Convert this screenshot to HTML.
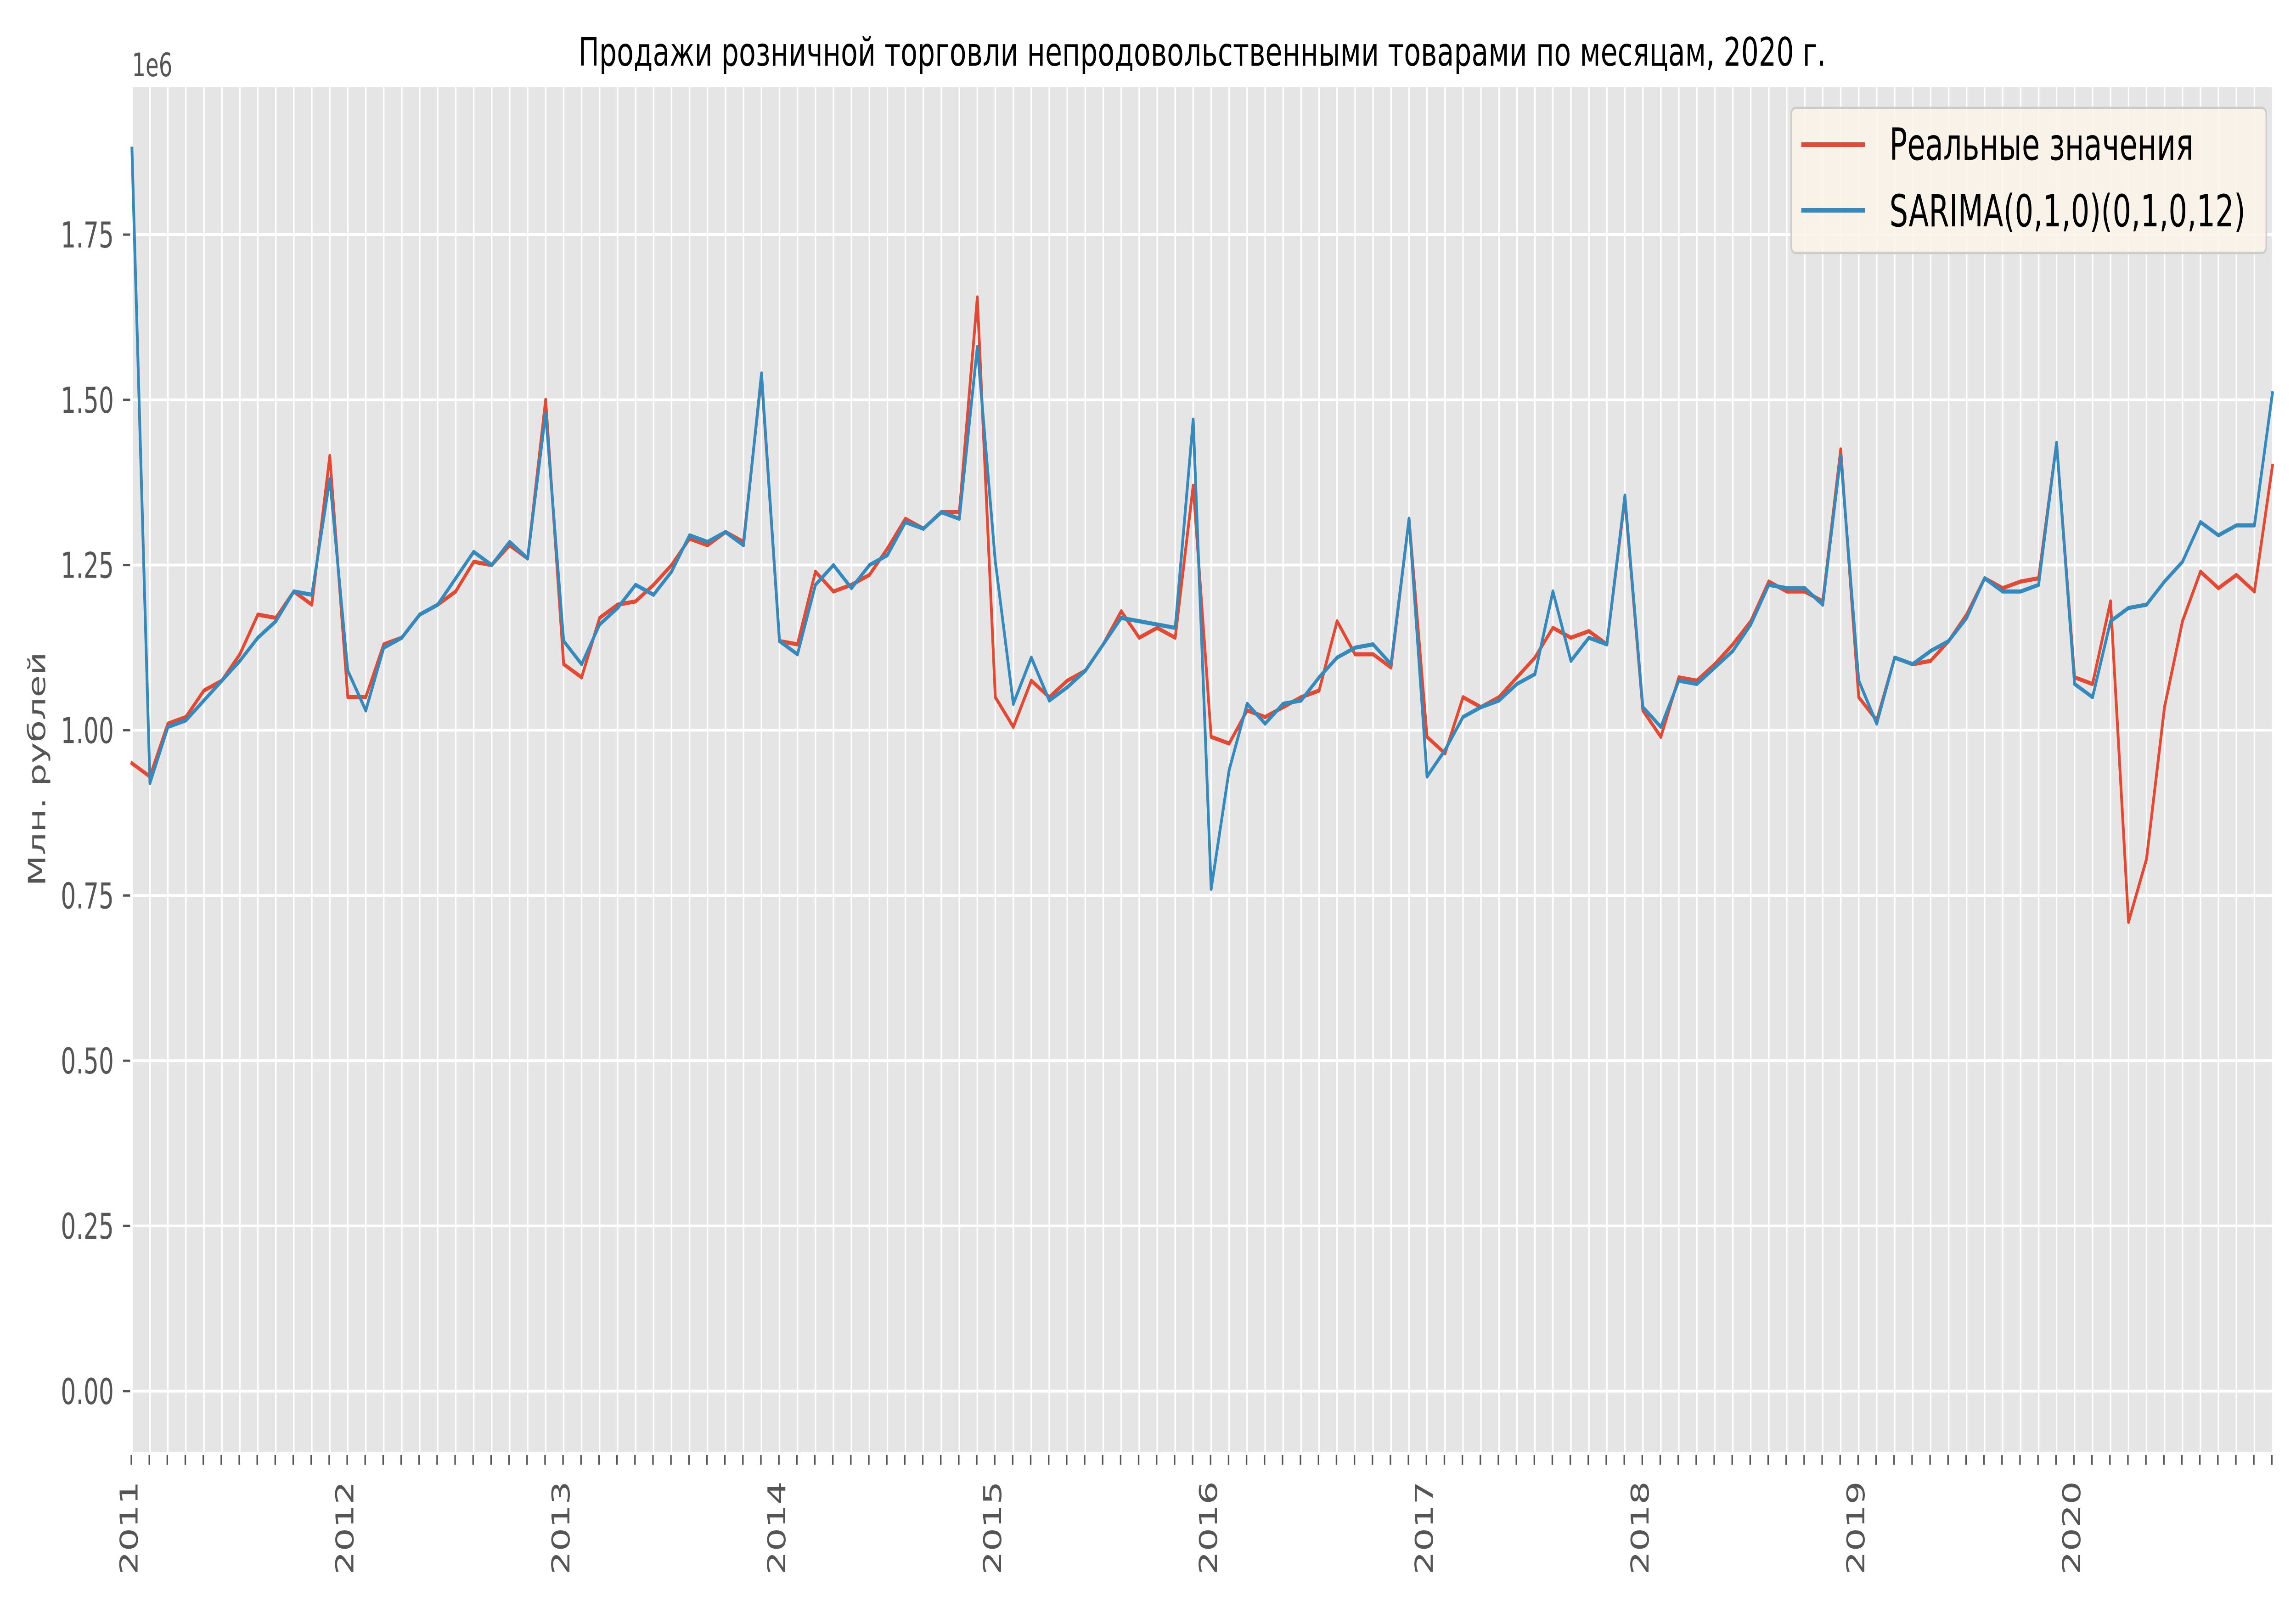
<!DOCTYPE html>
<html><head><meta charset="utf-8">
<style>
html,body{margin:0;padding:0;background:#fff;overflow:hidden;width:100%;height:100%;}
svg{display:block;width:100vw;height:100vh;font-family:"DejaVu Sans","Liberation Sans",sans-serif;}
</style></head>
<body>
<svg id="chart" xmlns="http://www.w3.org/2000/svg" viewBox="0 0 7500 3500" preserveAspectRatio="none">
<rect x="0" y="0" width="7500" height="3500" fill="#ffffff"/>
<g id="plot"></g>
</svg>
<script>
const years = [2011,2012,2013,2014,2015,2016,2017,2018,2019,2020];
const yTicks = [0,0.25,0.5,0.75,1.0,1.25,1.5,1.75];
const yTickLabels = ["0.00","0.25","0.50","0.75","1.00","1.25","1.50","1.75"];
const actual = [
0.95,0.93,1.01,1.02,1.06,1.075,1.115,1.175,1.17,1.21,1.19,1.415,
1.05,1.05,1.13,1.14,1.175,1.19,1.21,1.255,1.25,1.28,1.26,1.50,
1.10,1.08,1.17,1.19,1.195,1.22,1.25,1.29,1.28,1.30,1.285,1.535,
1.135,1.13,1.24,1.21,1.22,1.235,1.275,1.32,1.305,1.33,1.33,1.655,
1.05,1.005,1.075,1.05,1.075,1.09,1.13,1.18,1.14,1.155,1.14,1.37,
0.99,0.98,1.03,1.02,1.035,1.05,1.06,1.165,1.115,1.115,1.095,1.32,
0.99,0.965,1.05,1.035,1.05,1.08,1.11,1.155,1.14,1.15,1.13,1.35,
1.03,0.99,1.08,1.075,1.10,1.13,1.165,1.225,1.21,1.21,1.195,1.425,
1.05,1.015,1.11,1.10,1.105,1.135,1.175,1.23,1.215,1.225,1.23,1.435,
1.08,1.07,1.195,0.71,0.805,1.035,1.165,1.24,1.215,1.235,1.21,1.40];
const sarima = [
1.88,0.92,1.005,1.015,1.045,1.075,1.105,1.14,1.165,1.21,1.205,1.38,
1.09,1.03,1.125,1.14,1.175,1.19,1.23,1.27,1.25,1.285,1.26,1.48,
1.135,1.10,1.16,1.185,1.22,1.205,1.24,1.295,1.285,1.30,1.28,1.54,
1.135,1.115,1.22,1.25,1.215,1.25,1.265,1.315,1.305,1.33,1.32,1.58,
1.255,1.04,1.11,1.045,1.065,1.09,1.13,1.17,1.165,1.16,1.155,1.47,
0.76,0.94,1.04,1.01,1.04,1.045,1.08,1.11,1.125,1.13,1.10,1.32,
0.93,0.97,1.02,1.035,1.045,1.07,1.085,1.21,1.105,1.14,1.13,1.355,
1.035,1.005,1.075,1.07,1.095,1.12,1.16,1.22,1.215,1.215,1.19,1.415,
1.075,1.01,1.11,1.10,1.12,1.135,1.17,1.23,1.21,1.21,1.22,1.435,
1.07,1.05,1.165,1.185,1.19,1.225,1.255,1.315,1.295,1.31,1.31,1.51];

const NS="http://www.w3.org/2000/svg";
const L=431,R=7423,T=190,B=3163;
const yMin=-0.0925,yMax=1.973;
const nM=120;
function xs(i){return L+(R-L)*i/(nM-1);}
function ys(v){return B-(v-yMin)/(yMax-yMin)*(B-T);}
const g=document.getElementById('plot');
function mk(tag,attrs,parent){const e=document.createElementNS(NS,tag);for(const k in attrs)e.setAttribute(k,attrs[k]);(parent||g).appendChild(e);return e;}

const bg=mk('rect',{x:L,y:T,width:R-L,height:B-T,fill:'#e5e5e5'});



for(let i=0;i<nM;i++){
  const x=xs(i);
  const gl=mk('line',{x1:x,x2:x,y1:T,y2:B,stroke:'#ffffff','stroke-width':5});
  
  
  const tk=mk('line',{x1:x-2,x2:x-2,y1:B+6,y2:B+27,stroke:'#555555','stroke-width':5});
  
  
}
yTicks.forEach((v,k)=>{
  const y=ys(v);
  const gl=mk('line',{x1:L,x2:R,y1:y,y2:y,stroke:'#ffffff','stroke-width':6});
  
  
  const tk=mk('line',{x1:402,x2:425,y1:y,y2:y,stroke:'#555555','stroke-width':5});
  
  
  const t=mk('text',{x:372,y:y+28,'text-anchor':'end','font-size':78,fill:'#555555'});
  t.textContent=yTickLabels[k];
  
  
});
years.forEach((yr,k)=>{
  const x=xs(k*12)-8;
  const t=mk('text',{x:0,y:0,'text-anchor':'end','dominant-baseline':'central','font-size':80,fill:'#555555',transform:`translate(${x},3226) rotate(-90)`});
  t.textContent=String(yr);
  
  
});
function path(arr){return arr.map((v,i)=>(i?'L':'M')+xs(i).toFixed(1)+','+ys(v).toFixed(1)).join(' ');}
const pa=mk('path',{d:path(actual),fill:'none',stroke:'#E24A33','stroke-width':9,'stroke-linejoin':'round','stroke-linecap':'square'});


const pb=mk('path',{d:path(sarima),fill:'none',stroke:'#348ABD','stroke-width':9,'stroke-linejoin':'round','stroke-linecap':'square'});



const ttl=mk('text',{x:3927,y:143,'text-anchor':'middle','font-size':86,fill:'#000000',textLength:4075,lengthAdjust:'spacingAndGlyphs'});
ttl.textContent='Продажи розничной торговли непродовольственными товарами по месяцам, 2020 г.';


const off=mk('text',{x:431,y:166,'font-size':70,fill:'#555555'});
off.textContent='1e6';


const yl=mk('text',{x:0,y:0,'text-anchor':'middle','font-size':78,fill:'#555555',transform:'translate(148,1675) rotate(-90)'});
yl.textContent='Млн. рублей';



const lg=mk('g',{});


mk('rect',{x:5851,y:235,width:1552,height:316,rx:14,fill:'#faf4e8','fill-opacity':0.88,stroke:'#cccccc','stroke-width':5},lg);
const l1=mk('line',{x1:5884,x2:6092,y1:315,y2:315,stroke:'#E24A33','stroke-width':10},lg);


const t1=mk('text',{x:6172,y:348,'font-size':96,fill:'#000000'},lg);
t1.textContent='Реальные значения';


const l2=mk('line',{x1:5884,x2:6092,y1:458,y2:458,stroke:'#348ABD','stroke-width':10},lg);


const t2=mk('text',{x:6172,y:493,'font-size':96,fill:'#000000'},lg);
t2.textContent='SARIMA(0,1,0)(0,1,0,12)';


</script>
</body></html>
